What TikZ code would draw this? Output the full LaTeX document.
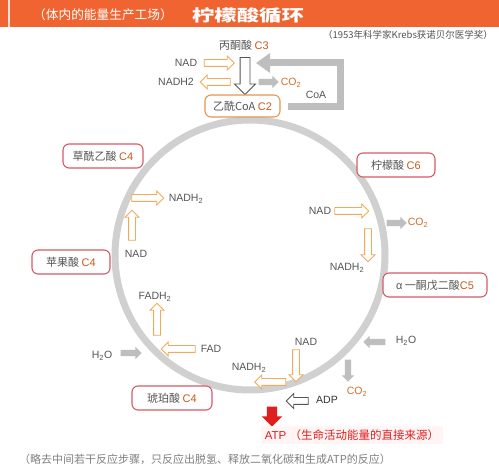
\documentclass[tikz,border=0pt]{standalone}
\usepackage{fontspec}
\setmainfont{Liberation Sans}
\newfontfamily\cjk{Noto Sans CJK SC}
\usetikzlibrary{shapes.arrows,arrows.meta}
\definecolor{hdr}{RGB}{240,100,50}
\definecolor{arrO}{RGB}{240,170,90}
\definecolor{boxO}{RGB}{230,150,80}
\definecolor{boxR}{RGB}{215,90,105}
\definecolor{cC}{RGB}{200,90,30}
\definecolor{coO}{RGB}{210,110,40}
\definecolor{arrG}{RGB}{190,190,190}
\definecolor{labG}{RGB}{85,85,85}
\definecolor{ringG}{RGB}{208,208,208}
\definecolor{atpR}{RGB}{225,30,30}
\begin{document}
\begin{tikzpicture}[x=1pt,y=-1pt,
  lab/.style={font=\fontsize{10.5}{10.5}\selectfont, text=labG, inner sep=0pt},
  cbox/.style={draw=boxR, fill=white, rounded corners=6pt, line width=1.1pt, minimum width=#1, minimum height=24pt, inner sep=0pt, font=\cjk\fontsize{11}{11}\selectfont, text=labG},
  oarr/.style={single arrow, draw=arrO, fill=white, line width=0.9pt, minimum height=#1, inner xsep=0pt, inner ysep=3pt, single arrow head extend=3.5pt},
  garr/.style={single arrow, draw=none, fill=arrG, minimum height=#1, inner xsep=0pt, inner ysep=3pt, single arrow head extend=3pt},
  warr/.style={single arrow, draw=labG, fill=white, line width=0.9pt, minimum height=#1, inner xsep=0pt},
  vert/.style={inner xsep=#1, inner ysep=0pt},
  vert/.default=3pt,
  ring/.style={draw=ringG, line width=7pt},
  co/.style={font=\fontsize{10.5}{10.5}\selectfont, text=coO, inner sep=0pt}
]
\useasboundingbox (0,0) rectangle (499,476);
\fill[white] (0,0) rectangle (499,476);
% header
\fill[hdr] (0,0) rectangle (499,27);
\draw[white!80!hdr, line width=1.5pt] (9,0) -- (9,27);
\node[text=white, font=\cjk\fontsize{12.7}{13}\selectfont, inner sep=0pt] (sub) at (103,15) {（体内的能量生产工场）};
\node[text=white, font=\cjk\bfseries\fontsize{16}{16}\selectfont, inner sep=0pt] (title) at (248,15) {\scalebox{1.4}[1]{柠檬酸循环}};
\node[text=labG, font=\cjk\fontsize{9.5}{10}\selectfont, inner sep=0pt] (krebs) at (408,35) {（1953年科学家Krebs获诺贝尔医学奖）};
% ring
\draw[ring] (250,255) circle[radius=135pt];
% top part
\coordinate (lp1) at (288,107);
\coordinate (lp2) at (340,107);
\coordinate (lp3) at (340,63);
\coordinate (lp4) at (256,63);
\draw[arrG, line width=7pt, line join=miter, -{Triangle[width=19pt,length=14pt]}] (lp1) -- (lp2) -- (lp3) -- (lp4);
\node[font=\cjk\fontsize{11}{11}\selectfont, text=labG, inner sep=0pt] (pyr) at (244,45) {丙酮酸 {\rmfamily\color{cC}C3}};
\node[lab] (nad1) at (186,63) {NAD};
\node[lab] (nadh1) at (176,82) {NADH2};
\node[oarr=30] (oa1) at (217.5,63) {};
\node[oarr=30, shape border rotate=180] (oa2) at (217,82) {};
\node[warr=37, vert=4.5pt, single arrow head extend=5.5pt, shape border rotate=270] (wa1) at (245,73.5) {};
\node[garr=20] (ga1) at (267,82) {};
\node[co] (co1) at (291,83) {CO\textsubscript{2}};
\node[lab] (coa) at (316,95) {CoA};
\node[cbox=75, draw=boxO, minimum height=22pt] (acoa) at (242.5,106) {乙酰CoA {\rmfamily\color{cC}C2}};
% left
\node[cbox=80] (oaa) at (103,156) {草酰乙酸 {\rmfamily\color{cC}C4}};
\node[oarr=32] (oa3) at (146,198) {};
\node[lab] (nadh2) at (186,199) {NADH\textsubscript{2}};
\node[oarr=30, vert, shape border rotate=90] (oa4) at (132,227) {};
\node[lab] (nad2) at (136,254) {NAD};
\node[cbox=78] (mal) at (71,262) {苹果酸 {\rmfamily\color{cC}C4}};
\node[lab] (fadh2) at (155,297) {FADH\textsubscript{2}};
\node[oarr=32, vert, shape border rotate=90] (oa5) at (157,321) {};
\node[oarr=34, shape border rotate=180] (oa6) at (180,349) {};
\node[lab] (fad) at (211,349) {FAD};
\node[lab] (h2o1) at (102,356) {H\textsubscript{2}O};
\node[garr=21] (ga2) at (129.5,353) {};
\node[cbox=80] (suc) at (172,398) {琥珀酸 {\rmfamily\color{cC}C4}};
% right
\node[cbox=78] (cit) at (396,165) {柠檬酸 {\rmfamily\color{cC}C6}};
\node[lab] (nad3) at (320,211) {NAD};
\node[oarr=34] (oa7) at (350,211) {};
\node[garr=20] (ga3) at (395,223) {};
\node[co] (co2) at (418,223) {CO\textsubscript{2}};
\node[oarr=33, vert, shape border rotate=270] (oa8) at (368,243.5) {};
\node[lab] (nadh3) at (347,268) {NADH\textsubscript{2}};
\node[cbox=104] (akg) at (435,285) {{\rmfamily α} 一酮戊二酸{\rmfamily\color{cC}C5}};
% bottom right
\node[lab] (nad4) at (306,342) {NAD};
\node[oarr=32, vert, shape border rotate=270] (oa9) at (296,364) {};
\node[oarr=31, shape border rotate=180] (oa10) at (272,382) {};
\node[lab] (nadh4) at (249,368) {NADH\textsubscript{2}};
\node[garr=22, shape border rotate=180] (ga4) at (376,342) {};
\node[lab] (h2o2) at (406,341) {H\textsubscript{2}O};
\node[garr=22, vert, shape border rotate=270] (ga5) at (348,369) {};
\node[co] (co3) at (357,392) {CO\textsubscript{2}};
\node[warr=22, inner ysep=3pt, single arrow head extend=4pt, shape border rotate=180] (wa2) at (299,401) {};
\node[lab, text=black!80] (adp) at (327,400) {ADP};
\node[single arrow, fill=atpR, draw=none, minimum height=20pt, vert=5pt, single arrow head extend=5pt, shape border rotate=270] (ra) at (272,414) {};
\node[fill=red!4, text=atpR, font=\fontsize{11.5}{12}\selectfont, inner xsep=4pt, inner ysep=4pt] (atp) at (352,435) {ATP {\cjk（生命活动能量的直接来源）}};
% footnote
\node[text=gray, font=\cjk\fontsize{11}{11}\selectfont, inner sep=0pt] (foot) at (205,459) {（略去中间若干反应步骤，只反应出脱氢、释放二氧化碳和生成ATP的反应）};
\end{tikzpicture}
\end{document}
